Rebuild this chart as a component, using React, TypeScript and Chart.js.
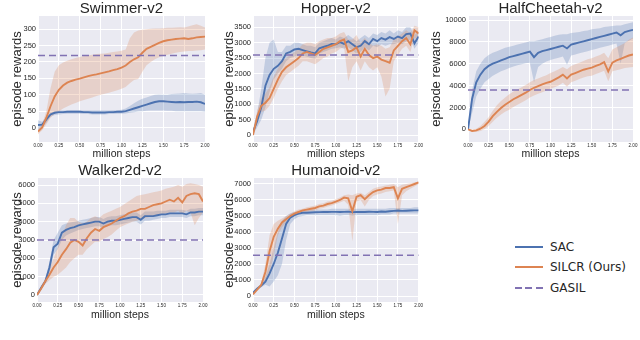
import React, { useEffect, useRef } from 'react';
import { Chart, registerables } from 'chart.js';
Chart.register(...registerables);

// ---------- shared x data ----------
const steps = [0, 0.05, 0.1, 0.15, 0.2, 0.25, 0.3, 0.35, 0.4, 0.45, 0.5, 0.55, 0.6, 0.65, 0.7, 0.75, 0.8, 0.85, 0.9, 0.95, 1.0,
  1.05, 1.1, 1.15, 1.2, 1.25, 1.3, 1.35, 1.4, 1.45, 1.5, 1.55, 1.6, 1.65, 1.7, 1.75, 1.8, 1.85, 1.9, 1.95, 2.0];
const xTicks = [0, 0.25, 0.5, 0.75, 1.0, 1.25, 1.5, 1.75, 2.0];

// ---------- Swimmer-v2 ----------
const swimmerTicks = [0, 50, 100, 150, 200, 250, 300];
const swimmerSacMean = [8, 9, 25, 40, 45, 47, 47, 48, 48, 48, 48, 47, 47, 46, 46, 46, 46, 47, 47, 48, 48, 50, 54, 58, 62, 66, 70, 74, 78, 80, 80, 79, 78, 77, 78, 77, 78, 78, 79, 77, 72];
const swimmerSacLow = [-8, 0, 15, 33, 38, 40, 41, 42, 42, 42, 42, 41, 41, 40, 40, 40, 40, 41, 41, 42, 42, 43, 45, 47, 49, 50, 51, 52, 52, 52, 52, 51, 51, 50, 50, 50, 50, 50, 50, 50, 48];
const swimmerSacHigh = [22, 18, 32, 45, 50, 52, 52, 52, 53, 53, 53, 52, 52, 52, 52, 52, 52, 52, 53, 53, 54, 58, 66, 74, 82, 88, 92, 96, 100, 101, 100, 100, 102, 103, 104, 105, 104, 103, 104, 105, 100];
const swimmerSilMean = [-12, 0, 30, 65, 95, 115, 128, 137, 142, 146, 149, 153, 157, 160, 162, 165, 168, 171, 175, 178, 183, 189, 200, 208, 214, 228, 240, 246, 252, 258, 263, 266, 268, 270, 271, 272, 270, 272, 275, 276, 277];
const swimmerSilLow = [-20, -8, 10, 30, 42, 50, 58, 64, 70, 75, 80, 84, 88, 92, 96, 100, 103, 106, 110, 114, 118, 124, 135, 145, 148, 170, 190, 200, 208, 214, 218, 222, 225, 228, 230, 232, 233, 233, 235, 236, 238];
const swimmerSilHigh = [-5, 10, 50, 120, 170, 190, 198, 204, 208, 212, 215, 218, 220, 222, 224, 225, 226, 228, 230, 232, 234, 238, 272, 290, 296, 298, 300, 301, 302, 302, 303, 304, 304, 305, 306, 305, 308, 312, 315, 310, 305];
const swimmerGasil = 220;

// ---------- Hopper-v2 ----------
const hopperTicks = [0, 500, 1000, 1500, 2000, 2500, 3000, 3500];
const hopperSacMean = [100, 450, 900, 1600, 1950, 2150, 2250, 2400, 2650, 2700, 2780, 2800, 2760, 2720, 2680, 2650, 2820, 2860, 2900, 2960, 2950, 3020, 2960, 3050, 2950, 2850, 2900, 3050, 2950, 3120, 3050, 3150, 3100, 3180, 3120, 3200, 3150, 3280, 3300, 2980, 3200];
const hopperSacLow = [0, 250, 500, 900, 1400, 1800, 2000, 2150, 2400, 2500, 2550, 2600, 2580, 2550, 2500, 2480, 2650, 2700, 2750, 2800, 2820, 2850, 2800, 2850, 2750, 2650, 2700, 2850, 2750, 2900, 2850, 2950, 2900, 2950, 2950, 3000, 2950, 3050, 3100, 2800, 3000];
const hopperSacHigh = [200, 700, 1500, 2500, 3000, 3100, 2700, 2700, 2900, 2900, 3000, 3000, 2950, 2900, 2900, 2850, 3000, 3050, 3100, 3150, 3100, 3200, 3150, 3250, 3150, 3050, 3150, 3250, 3150, 3300, 3250, 3350, 3300, 3400, 3300, 3400, 3350, 3500, 3500, 3250, 3400];
const hopperSilMean = [0, 600, 950, 1050, 1200, 1500, 1800, 2050, 2200, 2300, 2400, 2500, 2650, 2700, 2650, 2600, 2700, 2800, 2850, 2900, 2950, 3050, 3100, 2700, 2750, 2850, 2550, 2800, 2600, 2500, 2550, 2450, 2400, 2350, 2750, 2900, 3050, 3150, 2950, 3400, 3300];
const hopperSilLow = [0, 400, 750, 800, 950, 1200, 1500, 1750, 1950, 2050, 2150, 2250, 2400, 2400, 2350, 2300, 2400, 2500, 2550, 2650, 2700, 2800, 2850, 1750, 2200, 2400, 2100, 2400, 2200, 2100, 2200, 1900, 1250, 1500, 2400, 2600, 2800, 2900, 2700, 3150, 3100];
const hopperSilHigh = [0, 800, 1200, 1350, 1550, 1900, 2150, 2400, 2500, 2600, 2700, 2800, 2950, 3000, 3000, 2950, 3050, 3100, 3150, 3150, 3200, 3300, 3350, 3100, 3100, 3250, 3000, 3150, 3000, 2900, 2950, 2900, 2800, 2850, 3100, 3200, 3300, 3400, 3300, 3550, 3500];
const hopperGasil = 2600;

// ---------- HalfCheetah-v2 ----------
const cheetahTicks = [0, 2000, 4000, 6000, 8000, 10000];
const cheetahSacMean = [0, 2800, 4300, 5000, 5500, 5800, 6000, 6150, 6300, 6450, 6600, 6700, 6800, 6900, 7000, 7100, 6600, 7000, 7150, 7250, 7350, 7450, 7550, 7650, 7400, 7750, 7850, 7950, 8050, 8150, 8250, 8350, 8450, 8550, 8650, 8750, 8850, 8600, 8900, 9000, 9100];
const cheetahSacLow = [0, 1500, 3000, 3700, 4300, 4600, 4900, 5100, 5300, 5450, 5600, 5750, 5850, 5950, 6050, 6100, 4300, 5700, 6000, 6200, 6350, 6450, 6550, 6650, 5900, 6750, 6850, 6950, 7050, 7150, 7250, 7350, 7450, 7550, 7650, 7750, 7850, 6000, 7900, 8100, 8300];
const cheetahSacHigh = [0, 3600, 5300, 6000, 6500, 6800, 7000, 7150, 7300, 7450, 7550, 7650, 7750, 7850, 7950, 8050, 8050, 8150, 8250, 8350, 8450, 8550, 8650, 8700, 8700, 8800, 8850, 8900, 9000, 9050, 9150, 9200, 9250, 9350, 9400, 9450, 9500, 9500, 9600, 9700, 9800];
const cheetahSilMean = [0, -150, -100, 50, 300, 700, 1200, 1600, 1950, 2250, 2500, 2750, 2950, 3150, 3350, 3600, 3800, 3950, 4100, 4250, 4350, 4550, 4750, 5000, 4650, 5000, 5150, 5300, 5450, 5550, 5650, 5800, 5950, 6150, 5300, 6100, 6300, 6450, 6600, 6750, 6850];
const cheetahSilLow = [0, -250, -250, -150, 0, 300, 700, 1050, 1350, 1600, 1800, 2050, 2250, 2450, 2650, 2900, 3100, 3250, 3400, 3550, 3700, 3850, 4000, 4250, 3900, 4300, 4450, 4600, 4750, 4850, 4900, 5050, 5200, 5350, 4400, 5300, 5400, 5500, 5600, 5650, 5700];
const cheetahSilHigh = [0, -50, 50, 300, 700, 1100, 1700, 2200, 2600, 2900, 3200, 3450, 3650, 3850, 4050, 4300, 4500, 4650, 4800, 4950, 5150, 5300, 5500, 5700, 5500, 5800, 5950, 6100, 6250, 6400, 6500, 6650, 6800, 7000, 6500, 7300, 7500, 7700, 7900, 8200, 8400];
const cheetahGasil = 3600;

// ---------- Walker2d-v2 ----------
const walkerTicks = [0, 1000, 2000, 3000, 4000, 5000, 6000];
const walkerSacMean = [0, 400, 750, 1500, 2600, 2800, 3400, 3550, 3650, 3700, 3800, 3850, 3900, 3950, 4000, 4000, 3900, 4000, 4050, 4050, 4100, 4150, 4200, 4250, 4250, 4100, 4300, 4300, 4300, 4350, 4400, 4400, 4450, 4450, 4450, 4450, 4400, 4500, 4500, 4550, 4550];
const walkerSacLow = [0, 300, 650, 1200, 2200, 2500, 3000, 3250, 3350, 3450, 3550, 3600, 3650, 3700, 3750, 3750, 3650, 3750, 3800, 3800, 3850, 3900, 3950, 4000, 4000, 3850, 4050, 4050, 4100, 4150, 4200, 4200, 4250, 4250, 4250, 4250, 4200, 4300, 4300, 4350, 4350];
const walkerSacHigh = [0, 500, 850, 1800, 3000, 3400, 3800, 3900, 3950, 4000, 4050, 4100, 4150, 4200, 4250, 4250, 4150, 4250, 4300, 4300, 4350, 4400, 4450, 4500, 4500, 4350, 4550, 4550, 4550, 4600, 4600, 4600, 4650, 4650, 4650, 4650, 4600, 4700, 4700, 4750, 4750];
const walkerSilMean = [0, 350, 750, 1100, 1500, 1800, 2200, 2500, 2850, 3000, 2900, 2700, 3100, 3400, 3600, 3500, 3700, 3800, 3900, 4050, 4200, 4300, 4450, 4550, 4600, 4700, 4700, 4800, 4900, 4950, 5000, 5100, 5200, 5100, 5300, 5050, 5400, 5500, 5550, 5500, 5100];
const walkerSilLow = [0, 250, 600, 800, 1000, 1100, 1300, 1500, 1800, 2000, 2200, 2200, 2500, 2700, 2900, 2900, 3050, 3150, 3300, 3500, 3700, 3800, 3900, 4000, 4050, 4150, 4200, 4250, 4300, 4350, 4400, 4450, 4500, 4500, 4600, 4400, 4600, 4500, 3800, 4200, 4500];
const walkerSilHigh = [0, 450, 900, 1400, 2000, 2600, 3200, 3800, 4200, 4200, 4000, 3900, 4000, 4200, 4300, 4200, 4400, 4500, 4600, 4700, 4800, 4950, 5100, 5250, 5400, 5450, 5500, 5550, 5600, 5650, 5700, 5800, 5850, 5900, 6000, 5900, 6050, 6100, 6050, 6000, 5900];
const walkerGasil = 3000;

// ---------- Humanoid-v2 ----------
const humanoidTicks = [0, 1000, 2000, 3000, 4000, 5000, 6000, 7000];
const humanoidSacMean = [200, 450, 650, 900, 1400, 2000, 2700, 3600, 4500, 4900, 5050, 5150, 5200, 5200, 5220, 5230, 5240, 5250, 5250, 5260, 5260, 5250, 5260, 5270, 5240, 5250, 5260, 5250, 5270, 5260, 5250, 5280, 5270, 5300, 5320, 5340, 5320, 5330, 5340, 5350, 5350];
const humanoidSacLow = [100, 350, 550, 700, 600, 900, 1300, 2000, 3500, 4500, 4800, 4950, 5000, 5050, 5050, 5050, 5050, 5050, 5050, 5050, 5050, 5000, 5050, 5050, 5000, 5050, 5050, 5050, 5050, 5050, 5050, 5100, 5100, 5100, 5150, 5150, 5150, 5150, 5150, 5150, 5150];
const humanoidSacHigh = [300, 550, 750, 1200, 2000, 3000, 4000, 4700, 5000, 5150, 5250, 5300, 5350, 5350, 5400, 5400, 5400, 5400, 5400, 5450, 5450, 5450, 5450, 5450, 5400, 5450, 5450, 5450, 5450, 5450, 5450, 5450, 5450, 5500, 5500, 5500, 5500, 5500, 5500, 5550, 5550];
const humanoidSilMean = [100, 400, 700, 1500, 2800, 3700, 4200, 4600, 4800, 5000, 5150, 5250, 5350, 5400, 5450, 5500, 5600, 5650, 5750, 5800, 5900, 6000, 6150, 6100, 5300, 6200, 6300, 6050, 6300, 6500, 6600, 6650, 6750, 6750, 6800, 6100, 6700, 6800, 6900, 7000, 7100];
const humanoidSilLow = [100, 350, 600, 900, 1500, 2500, 3800, 4300, 4600, 4850, 5000, 5100, 5200, 5250, 5300, 5350, 5450, 5500, 5600, 5650, 5750, 5850, 5950, 5700, 3400, 5900, 6000, 5600, 6000, 6250, 6350, 6400, 6500, 6550, 6600, 4500, 6300, 6550, 6700, 6850, 7000];
const humanoidSilHigh = [100, 450, 800, 2000, 3800, 4500, 4700, 4850, 5000, 5150, 5300, 5400, 5450, 5550, 5600, 5650, 5750, 5800, 5900, 5950, 6050, 6150, 6300, 6350, 6300, 6400, 6450, 6300, 6500, 6700, 6800, 6850, 6900, 6950, 7000, 6800, 6950, 7000, 7050, 7100, 7150];
const humanoidGasil = 2550;

// ---------- styling ----------
const SAC_COLOR = '#4C72B0';
const SIL_COLOR = '#DD8452';
const GAS_COLOR = '#8172B3';
const SAC_BAND = 'rgba(76,114,176,0.25)';
const SIL_BAND = 'rgba(221,132,82,0.25)';
const TEXT = '#262626';
const FONT = '"Liberation Sans", Arial, sans-serif';

type PanelSpec = {
  title: string;
  left: number; top: number; width: number; height: number;
  yW: number; xH: number; padRight: number; titleTop: number;
  yTitlePad: number; xTitlePad: number;
  yMin: number; yMax: number; yTicks: number[];
  sacMean: number[]; sacLow: number[]; sacHigh: number[];
  silMean: number[]; silLow: number[]; silHigh: number[];
  gasil: number;
};

const panels: PanelSpec[] = [
  { title: 'Swimmer-v2', left: 0, top: 0, width: 212, height: 162, yW: 38, xH: 20, padRight: 7, titleTop: 1,
    yTitlePad: 10, xTitlePad: 1.2, yMin: -44, yMax: 340, yTicks: swimmerTicks,
    sacMean: swimmerSacMean, sacLow: swimmerSacLow, sacHigh: swimmerSacHigh,
    silMean: swimmerSilMean, silLow: swimmerSilLow, silHigh: swimmerSilHigh, gasil: swimmerGasil },
  { title: 'Hopper-v2', left: 212, top: 0, width: 212, height: 162, yW: 41, xH: 20, padRight: 5, titleTop: 1,
    yTitlePad: 10, xTitlePad: 1.2, yMin: -227, yMax: 3867, yTicks: hopperTicks,
    sacMean: hopperSacMean, sacLow: hopperSacLow, sacHigh: hopperSacHigh,
    silMean: hopperSilMean, silLow: hopperSilLow, silHigh: hopperSilHigh, gasil: hopperGasil },
  { title: 'HalfCheetah-v2', left: 424, top: 0, width: 216, height: 162, yW: 44, xH: 20, padRight: 7, titleTop: 1,
    yTitlePad: 5, xTitlePad: 1.2, yMin: -1162, yMax: 10366, yTicks: cheetahTicks,
    sacMean: cheetahSacMean, sacLow: cheetahSacLow, sacHigh: cheetahSacHigh,
    silMean: cheetahSilMean, silLow: cheetahSilLow, silHigh: cheetahSilHigh, gasil: cheetahGasil },
  { title: 'Walker2d-v2', left: 0, top: 162, width: 212, height: 162, yW: 37, xH: 22, padRight: 9, titleTop: 1,
    yTitlePad: 9.5, xTitlePad: 2.7, yMin: -382, yMax: 6382, yTicks: walkerTicks,
    sacMean: walkerSacMean, sacLow: walkerSacLow, sacHigh: walkerSacHigh,
    silMean: walkerSilMean, silLow: walkerSilLow, silHigh: walkerSilHigh, gasil: walkerGasil },
  { title: 'Humanoid-v2', left: 212, top: 162, width: 212, height: 162, yW: 41, xH: 22, padRight: 5, titleTop: 1,
    yTitlePad: 10, xTitlePad: 2.7, yMin: -375, yMax: 7375, yTicks: humanoidTicks,
    sacMean: humanoidSacMean, sacLow: humanoidSacLow, sacHigh: humanoidSacHigh,
    silMean: humanoidSilMean, silLow: humanoidSilLow, silHigh: humanoidSilHigh, gasil: humanoidGasil },
];

const toPts = (ys: number[]) => steps.map((x, i) => ({ x, y: ys[i] }));

const bgPlugin = {
  id: 'plotBg',
  beforeDraw(chart: any) {
    const { ctx, chartArea } = chart;
    if (!chartArea) return;
    ctx.save();
    ctx.fillStyle = '#EAEAF2';
    ctx.fillRect(chartArea.left, chartArea.top, chartArea.right - chartArea.left, chartArea.bottom - chartArea.top);
    ctx.restore();
  },
};

function Panel({ p }: { p: PanelSpec }) {
  const ref = useRef<HTMLCanvasElement>(null);
  useEffect(() => {
    if (!ref.current) return;
    const bandBase = { pointRadius: 0, borderWidth: 0, borderColor: 'rgba(0,0,0,0)', tension: 0 };
    const chart = new Chart(ref.current, {
      type: 'line',
      data: {
        datasets: [
          { ...bandBase, data: toPts(p.sacLow), fill: false, order: 5 },
          { ...bandBase, data: toPts(p.sacHigh), fill: '-1', backgroundColor: SAC_BAND, order: 5 },
          { ...bandBase, data: toPts(p.silLow), fill: false, order: 4 },
          { ...bandBase, data: toPts(p.silHigh), fill: '-1', backgroundColor: SIL_BAND, order: 4 },
          { data: toPts(p.sacMean), borderColor: SAC_COLOR, borderWidth: 1.9, pointRadius: 0, fill: false, tension: 0, order: 3 },
          { data: toPts(p.silMean), borderColor: SIL_COLOR, borderWidth: 1.9, pointRadius: 0, fill: false, tension: 0, order: 2 },
          { data: [{ x: 0, y: p.gasil }, { x: 2, y: p.gasil }], borderColor: GAS_COLOR, borderWidth: 1.5,
            borderDash: [7, 4], pointRadius: 0, fill: false, order: 1 },
        ],
      } as any,
      options: {
        responsive: false,
        animation: false,
        events: [],
        layout: { padding: { left: 0, right: p.padRight, top: 0, bottom: 0 } },
        plugins: {
          legend: { display: false },
          tooltip: { enabled: false },
          title: {
            display: true, text: p.title, fullSize: false, color: TEXT,
            font: { family: FONT, size: 15, weight: 'normal', lineHeight: 1 },
            padding: { top: p.titleTop, bottom: 0 },
          },
        },
        scales: {
          x: {
            type: 'linear', min: 0, max: 2,
            afterBuildTicks: (s: any) => { s.ticks = xTicks.map((v) => ({ value: v })); },
            afterFit: (s: any) => { s.height = p.xH; },
            grid: { color: '#ffffff', lineWidth: 1, drawTicks: false },
            border: { display: false },
            ticks: {
              autoSkip: false, maxRotation: 0, minRotation: 0, padding: 1, color: TEXT,
              font: { family: FONT, size: 4.5 },
              callback: (v: any) => Number(v).toFixed(2),
            },
            title: {
              display: true, text: 'million steps', color: TEXT,
              font: { family: FONT, size: 10.5 }, padding: { top: 0, bottom: p.xTitlePad },
            },
          },
          y: {
            type: 'linear', min: p.yMin, max: p.yMax,
            afterBuildTicks: (s: any) => { s.ticks = p.yTicks.map((v) => ({ value: v })); },
            afterFit: (s: any) => { s.width = p.yW; },
            grid: { color: '#ffffff', lineWidth: 1, drawTicks: false },
            border: { display: false },
            ticks: {
              padding: 2, color: TEXT,
              font: { family: FONT, size: 7.5 },
              callback: (v: any) => String(v),
            },
            title: {
              display: true, text: 'episode rewards', color: TEXT,
              font: { family: FONT, size: 13 }, padding: { top: p.yTitlePad, bottom: 0 },
            },
          },
        },
      } as any,
      plugins: [bgPlugin],
    });
    return () => chart.destroy();
  }, [p]);
  return (
    <canvas ref={ref} width={p.width} height={p.height}
      style={{ position: 'absolute', left: p.left, top: p.top, width: p.width, height: p.height }} />
  );
}

const legendItems = [
  { label: 'SAC', color: SAC_COLOR, dashed: false, y: 247 },
  { label: 'SILCR (Ours)', color: SIL_COLOR, dashed: false, y: 267 },
  { label: 'GASIL', color: GAS_COLOR, dashed: true, y: 288 },
];

export default function App() {
  return (
    <div style={{ position: 'absolute', left: 0, top: 0, width: 640, height: 340, background: '#ffffff', overflow: 'hidden' }}>
      {panels.map((p) => <Panel key={p.title} p={p} />)}
      {legendItems.map((it) => (
        <div key={it.label} style={{ position: 'absolute', left: 515, top: it.y - 8, height: 16, display: 'flex', alignItems: 'center' }}>
          <div style={{
            width: 28, height: 2,
            background: it.dashed
              ? `repeating-linear-gradient(90deg, ${it.color} 0px, ${it.color} 7px, transparent 7px, transparent 10.5px)`
              : it.color,
          }} />
          <span style={{ marginLeft: 7, fontFamily: '"DejaVu Sans", sans-serif', fontSize: 12, color: TEXT, lineHeight: '16px', whiteSpace: 'nowrap' }}>
            {it.label}
          </span>
        </div>
      ))}
    </div>
  );
}
